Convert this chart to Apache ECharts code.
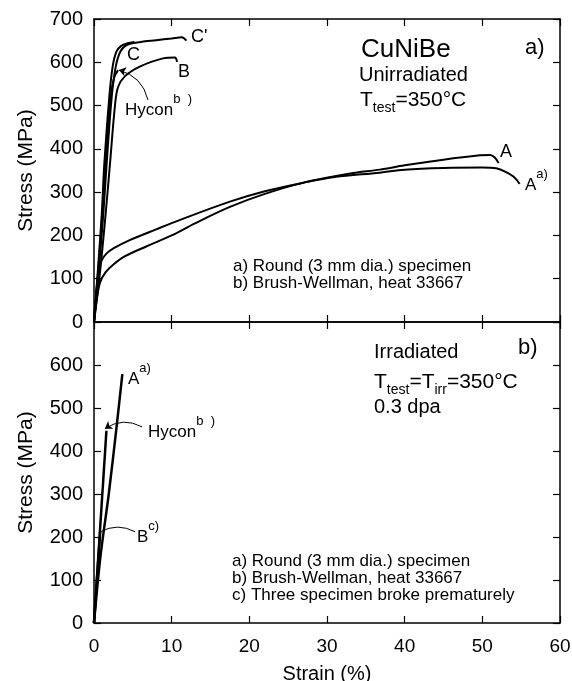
<!DOCTYPE html>
<html><head><meta charset="utf-8">
<script src="https://cdn.jsdelivr.net/npm/echarts@6/dist/echarts.min.js"></script>
<style>html,body{margin:0;padding:0;background:#fff}#c{width:572px;height:681px}</style>
</head><body><div id="c"></div>
<script>
// ---- axis ranges / ticks ----
const strainTicks = [0, 10, 20, 30, 40, 50, 60];
const stressTicks = [0, 100, 200, 300, 400, 500, 600, 700];

// ---- a) Unirradiated, T_test = 350 C : [strain %, stress MPa] ----
const unirrA = [[0,0],[0.4,58],[0.8,92],[1.5,115],[2.5,133],[4,152],[6.8,175],[10,200],[13,228],[17.5,266],[22,296],[27,322],[33,343],[36.8,352],[40,362],[45,375],[49.7,385],[51,386],[51.6,380],[52.1,367]];
const unirrAa = [[0,0],[0.3,70],[0.6,118],[1.0,143],[1.6,158],[2.5,170],[4.6,189],[8,214],[11.1,236],[17.5,278],[22,302],[27,322],[31,335],[36.8,345],[40,352],[45,356],[50,357],[51.8,355],[53,347],[54,336],[54.8,319]];
const unirrB = [[0,0],[0.8,120],[1.5,250],[2.06,366],[2.7,500],[3.1,543],[4,568],[5.9,590],[8.9,609],[10.4,611],[10.7,601]];
const unirrC = [[0,0],[0.5,120],[1.0,250],[1.33,366],[1.97,520],[2.4,590],[2.9,625],[3.5,638],[4.3,644],[5.2,647]];
const unirrCp = [[0,0],[0.6,120],[1.2,250],[1.63,366],[2.28,520],[2.8,590],[3.4,625],[4.2,640],[6,647],[8,651],[10,655],[11.3,658],[11.9,650]];
const unirrHycon = [[0,0],[0.55,120],[1.1,250],[1.5,366],[2.15,520],[2.6,565],[3.1,582]];

// ---- b) Irradiated, T_test = T_irr = 350 C, 0.3 dpa ----
const irrA = [[0,0],[0.8,150],[1.9,300],[2.9,455],[3.65,579]];
const irrHycon = [[0,0],[1.6,447]];
const irrB = [[0,0],[0.8,212]];

// ---- arrows (data coords): [from, to] ----
const arrowTopHycon = [[6.95,513],[3.2,582]];
const arrowBotHycon = [[6.2,456],[1.4,452]];
const arrowBotB = [[5.3,212],[0.8,212]];

const FONT = 'Liberation Sans, Arial, Helvetica, sans-serif';
const chart = echarts.init(document.getElementById('c'));

function xAx(grid, pos, labels) {
  return {
    type: 'value', gridIndex: grid, position: pos, min: 0, max: 60, interval: 10,
    axisLine: {show: true, onZero: false, lineStyle: {color: '#000', width: 1.5}},
    axisTick: {show: true, inside: true, length: 7, lineStyle: {color: '#000', width: 1.2}},
    axisLabel: {show: labels, color: '#000', fontSize: 19, fontFamily: FONT, margin: 14},
    splitLine: {show: false},
    name: labels ? 'Strain (%)' : '', nameLocation: 'middle', nameGap: 41,
    nameTextStyle: {color: '#000', fontSize: 20, fontFamily: FONT}
  };
}
function yAx(grid, pos, labels, showMax) {
  return {
    type: 'value', gridIndex: grid, position: pos, min: 0, max: 700, interval: 100,
    axisLine: {show: true, onZero: false, lineStyle: {color: '#000', width: 1.5}},
    axisTick: {show: true, inside: true, length: 7, lineStyle: {color: '#000', width: 1.2}},
    axisLabel: {show: labels, color: '#000', fontSize: 20, fontFamily: FONT, margin: 11, showMaxLabel: showMax},
    splitLine: {show: false},
    name: labels ? 'Stress (MPa)' : '', nameLocation: 'middle', nameGap: 57,
    nameTextStyle: {color: '#000', fontSize: 21, fontFamily: FONT}
  };
}
function curve(data, xi, yi, w) {
  return {type: 'line', data: data, xAxisIndex: xi, yAxisIndex: yi, showSymbol: false,
    smooth: 0.35, lineStyle: {color: '#000', width: w || 2}, z: 3, silent: true};
}
function arrow(pts, xi, yi, curv, head) {
  return {type: 'lines', coordinateSystem: 'cartesian2d', xAxisIndex: xi, yAxisIndex: yi,
    symbol: ['none', head ? 'arrow' : 'none'], symbolSize: 7, silent: true,
    lineStyle: {color: '#000', width: 1, opacity: 1, curveness: curv},
    data: [{coords: pts}]};
}
function txt(x, y, text, size, rich) {
  return {type: 'text', x: x, y: y, silent: true,
    style: {text: text, font: size + 'px ' + FONT, fill: '#000', textVerticalAlign: 'middle', rich: rich}};
}
const supRich = {m: {fontSize: 17, fontFamily: FONT, lineHeight: 35, verticalAlign: 'middle'},
                 s: {fontSize: 13, fontFamily: FONT, lineHeight: 13, verticalAlign: 'top'}};
const subRich = {m: {fontSize: 21, fontFamily: FONT, lineHeight: 30, verticalAlign: 'middle'},
                 s: {fontSize: 14, fontFamily: FONT, lineHeight: 14, verticalAlign: 'bottom'}};

chart.setOption({
  animation: false,
  backgroundColor: '#fff',
  grid: [
    {left: 94, top: 19, width: 466, height: 303, outerBoundsMode: 'none', containLabel: false},
    {left: 94, top: 322, width: 466, height: 301, outerBoundsMode: 'none', containLabel: false}
  ],
  xAxis: [xAx(0, 'bottom', false), xAx(0, 'top', false), xAx(1, 'bottom', true), xAx(1, 'top', false)],
  yAxis: [yAx(0, 'left', true, true), yAx(0, 'right', false, true), yAx(1, 'left', true, false), yAx(1, 'right', false, false)],
  series: [
    curve(unirrA, 0, 0, 2), curve(unirrAa, 0, 0, 2), curve(unirrB, 0, 0, 2),
    curve(unirrC, 0, 0, 2), curve(unirrCp, 0, 0, 2), curve(unirrHycon, 0, 0, 2),
    curve(irrA, 2, 2, 2.5), curve(irrHycon, 2, 2, 2.5), curve(irrB, 2, 2, 2.5),
    arrow(arrowTopHycon, 0, 0, -0.3, true),
    arrow(arrowBotHycon, 2, 2, -0.3, true),
    arrow(arrowBotB, 2, 2, -0.27, false)
  ],
  graphic: [
    txt(361, 50, 'CuNiBe', 26),
    txt(359, 75, 'Unirradiated', 20),
    txt(360, 100, '{m|T}{s|test}{m|=350°C}', 21, subRich),
    txt(525, 48, 'a)', 22),
    txt(233, 266, 'a) Round (3 mm dia.) specimen', 17),
    txt(233, 283, 'b) Brush-Wellman, heat 33667', 17),
    txt(191, 37, "C'", 18),
    txt(127, 55, 'C', 18),
    txt(178, 72, 'B', 18),
    txt(125, 110, '{m|Hycon}{s|b  )}', 17, supRich),
    txt(500, 152, 'A', 18),
    txt(525, 185, '{m|A}{s|a)}', 17, supRich),

    txt(374, 352, 'Irradiated', 20),
    txt(374, 382, '{m|T}{s|test}{m|=T}{s|irr}{m|=350°C}', 21, subRich),
    txt(374, 407, '0.3 dpa', 20),
    txt(518, 348, 'b)', 22),
    txt(232, 561, 'a) Round (3 mm dia.) specimen', 17),
    txt(232, 578, 'b) Brush-Wellman, heat 33667', 17),
    txt(232, 595, 'c) Three specimen broke prematurely', 17),
    txt(128, 379, '{m|A}{s|a)}', 17, supRich),
    txt(148, 432, '{m|Hycon}{s|b  )}', 17, supRich),
    txt(137, 537, '{m|B}{s|c)}', 17, supRich)
  ]
});
</script></body></html>
